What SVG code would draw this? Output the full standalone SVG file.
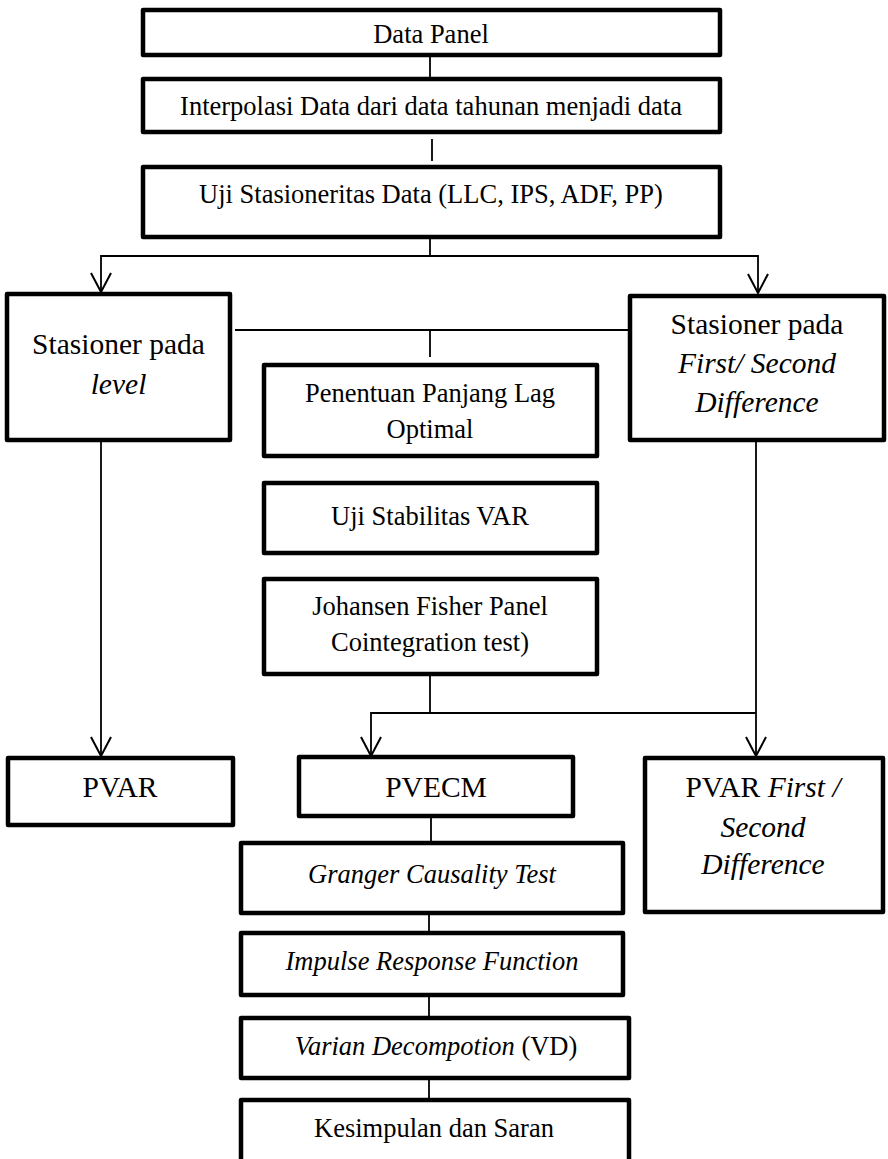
<svg xmlns="http://www.w3.org/2000/svg" width="888" height="1159" viewBox="0 0 888 1159">
<style>
.box{fill:#fff;stroke:#000;stroke-width:4.5;stroke-linejoin:round}
text{font-family:'Liberation Serif','Tinos','DejaVu Serif',serif;font-size:26.5px;fill:#000;text-anchor:middle}
.b{font-size:29.5px}
.i{font-style:italic}
.ln{fill:none;stroke:#000;stroke-width:1.8}
</style>
<defs>
<marker id="arr" markerWidth="24" markerHeight="24" viewBox="-12 -22 24 24" refX="0" refY="0" orient="0" markerUnits="userSpaceOnUse">
<path d="M-10,-19 L0,0 L10,-19" fill="none" stroke="#000" stroke-width="2"/>
</marker>
</defs>
<rect width="888" height="1159" fill="#fff"/>
<g id="connectors">
<line class="ln" x1="430" y1="56" x2="430" y2="78"/>
<line class="ln" x1="432" y1="139" x2="432" y2="161"/>
<line class="ln" x1="430" y1="238" x2="430" y2="256"/>
<polyline class="ln" points="101,292 101,256 758,256 758,293" marker-start="url(#arr)" marker-end="url(#arr)"/>
<line class="ln" x1="235" y1="330" x2="629" y2="330"/>
<line class="ln" x1="430" y1="330" x2="430" y2="357"/>
<line class="ln" x1="101" y1="442" x2="101" y2="756" marker-end="url(#arr)"/>
<line class="ln" x1="756" y1="442" x2="756" y2="756" marker-end="url(#arr)"/>
<line class="ln" x1="430" y1="675" x2="430" y2="713"/>
<polyline class="ln" points="756,713 371,713 371,756" marker-end="url(#arr)"/>
<line class="ln" x1="431" y1="817" x2="431" y2="843"/>
<line class="ln" x1="429" y1="913" x2="429" y2="933"/>
<line class="ln" x1="429" y1="995" x2="429" y2="1018"/>
<line class="ln" x1="429" y1="1078" x2="429" y2="1100"/>
</g>
<g id="n-datapanel"><rect class="box" x="143" y="10" width="577" height="45"/><text x="431" y="43">Data Panel</text></g>
<g id="n-interpolasi"><rect class="box" x="143" y="79" width="577" height="53"/><text x="431" y="115">Interpolasi Data dari data tahunan menjadi data</text></g>
<g id="n-uji-stasioneritas"><rect class="box" x="143" y="167" width="577" height="70"/><text x="431" y="203">Uji Stasioneritas Data (LLC, IPS, ADF, PP)</text></g>
<g id="n-level"><rect class="box" x="7" y="294" width="223" height="146"/><text class="b" x="118.5" y="354">Stasioner pada</text><text class="b i" x="118.5" y="394">level</text></g>
<g id="n-difference"><rect class="box" x="630" y="296" width="254" height="144"/><text class="b" x="757" y="334">Stasioner pada</text><text class="b i" x="757" y="373">First/ Second</text><text class="b i" x="757" y="412">Difference</text></g>
<g id="n-lag"><rect class="box" x="264" y="365" width="333" height="91"/><text x="430" y="402">Penentuan Panjang Lag</text><text x="430" y="438">Optimal</text></g>
<g id="n-stabilitas"><rect class="box" x="264" y="483" width="333" height="70"/><text x="430" y="525">Uji Stabilitas VAR</text></g>
<g id="n-johansen"><rect class="box" x="264" y="579" width="333" height="95"/><text x="430" y="615">Johansen Fisher Panel</text><text x="430" y="651">Cointegration test)</text></g>
<g id="n-pvar"><rect class="box" x="8" y="758" width="225" height="67"/><text class="b" x="120" y="797">PVAR</text></g>
<g id="n-pvecm"><rect class="box" x="299" y="757" width="274" height="59"/><text class="b" x="436" y="797">PVECM</text></g>
<g id="n-pvar-diff"><rect class="box" x="645" y="758" width="238" height="154"/><text class="b" x="763" y="797">PVAR <tspan class="i">First /</tspan></text><text class="b i" x="763" y="837">Second</text><text class="b i" x="763" y="874">Difference</text></g>
<g id="n-granger"><rect class="box" x="241" y="843" width="382" height="70"/><text class="i" x="432" y="883">Granger Causality Test</text></g>
<g id="n-irf"><rect class="box" x="241" y="933" width="382" height="62"/><text class="i" x="432" y="970">Impulse Response Function</text></g>
<g id="n-vd"><rect class="box" x="241" y="1018" width="388" height="60"/><text x="436" y="1055"><tspan class="i">Varian Decompotion</tspan> (VD)</text></g>
<g id="n-kesimpulan"><rect class="box" x="241" y="1100" width="388" height="62"/><text x="434" y="1137">Kesimpulan dan Saran</text></g>
</svg>
